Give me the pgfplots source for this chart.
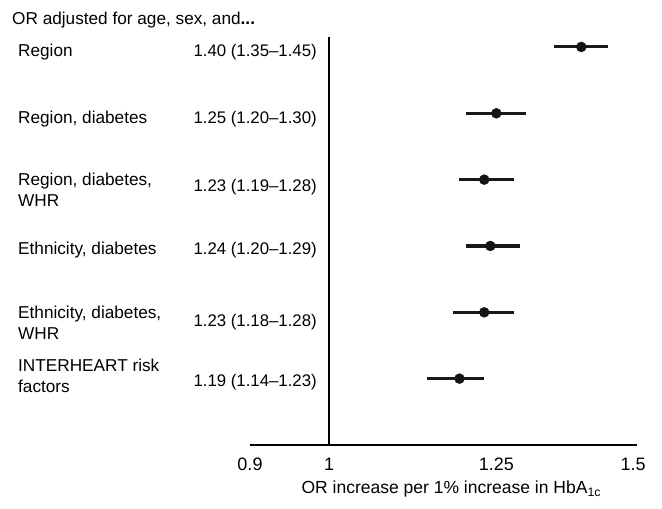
\documentclass[border=0pt]{standalone}
\usepackage{pgfplots}
\pgfplotsset{compat=1.18}
\usepackage{fontspec}
\setmainfont{Liberation Sans}
\newcommand{\lab}{\fontsize{17.2bp}{20.8bp}\selectfont}
\newcommand{\val}{\fontsize{16.8bp}{20.5bp}\selectfont}
\begin{document}
\begin{tikzpicture}
\begin{axis}[
  scale only axis, width=387bp, height=408bp,
  xmode=log, xmin=0.9, xmax=1.508,
  ymin=0, ymax=6.15,
  axis x line=bottom, axis y line=none,
  axis line style={-, line width=1.1bp, black},
  xtick={0.9,1,1.25,1.5}, xticklabels={0.9,1,1.25,1.5},
  major tick length=0pt, minor tick num=0,
  ytick=\empty,
  log ticks with fixed point,
  xticklabel style={font=\fontsize{18bp}{21bp}\selectfont, anchor=center, yshift=-19bp},
  xlabel={OR increase per 1\% increase in HbA\textsubscript{1c}},
  xlabel style={font=\fontsize{17.5bp}{21bp}\selectfont, at={(axis description cs:0.52,0)}, anchor=center, yshift=-44bp},
  clip=false,
]
\addplot[black, line width=1.1bp] coordinates {(1,0) (1,6.15)};
\addplot[black!90, line width=3.1bp] coordinates {(1.35,6) (1.45,6)};
\addplot[black!90, line width=3.1bp] coordinates {(1.20,5) (1.30,5)};
\addplot[black!90, line width=3.1bp] coordinates {(1.19,4) (1.28,4)};
\addplot[black!90, line width=3.1bp] coordinates {(1.20,3) (1.29,3)};
\addplot[black!90, line width=3.1bp] coordinates {(1.18,2) (1.28,2)};
\addplot[black!90, line width=3.1bp] coordinates {(1.14,1) (1.23,1)};
\addplot[only marks, mark=*, mark size=5bp, black!92, mark options={fill=black!92}] coordinates {(1.40,6) (1.25,5) (1.23,4) (1.24,3) (1.23,2) (1.19,1)};
\end{axis}
\begin{scope}[every node/.style={font=\lab, inner sep=0pt}]
\node[anchor=west, text height=0.72em, text depth=0pt] at (-238bp,424bp) {OR adjusted for age, sex, and\textbf{...}};
% labels
\node[anchor=west, text height=0.72em, text depth=0pt] at (-232bp,392.5bp) {Region};
\node[anchor=west, text height=0.72em, text depth=0pt] at (-232bp,325bp) {Region, diabetes};
\node[anchor=west, align=left] at (-232bp,255bp) {Region, diabetes,\\WHR};
\node[anchor=west, text height=0.72em, text depth=0pt] at (-232bp,194bp) {Ethnicity, diabetes};
\node[anchor=west, align=left] at (-232bp,122bp) {Ethnicity, diabetes,\\WHR};
\node[anchor=west, align=left] at (-232bp,69.5bp) {INTERHEART risk\\factors};
% values
\node[font=\val, anchor=east, text height=0.72em, text depth=0pt] at (67bp,392.5bp) {1.40 (1.35--1.45)};
\node[font=\val, anchor=east, text height=0.72em, text depth=0pt] at (67bp,325bp) {1.25 (1.20--1.30)};
\node[font=\val, anchor=east, text height=0.72em, text depth=0pt] at (67bp,257bp) {1.23 (1.19--1.28)};
\node[font=\val, anchor=east, text height=0.72em, text depth=0pt] at (67bp,194bp) {1.24 (1.20--1.29)};
\node[font=\val, anchor=east, text height=0.72em, text depth=0pt] at (67bp,122bp) {1.23 (1.18--1.28)};
\node[font=\val, anchor=east, text height=0.72em, text depth=0pt] at (67bp,62bp) {1.19 (1.14--1.23)};
\end{scope}
\path[use as bounding box] (-250bp,-64bp) rectangle (412bp,445bp);
\end{tikzpicture}
\end{document}
